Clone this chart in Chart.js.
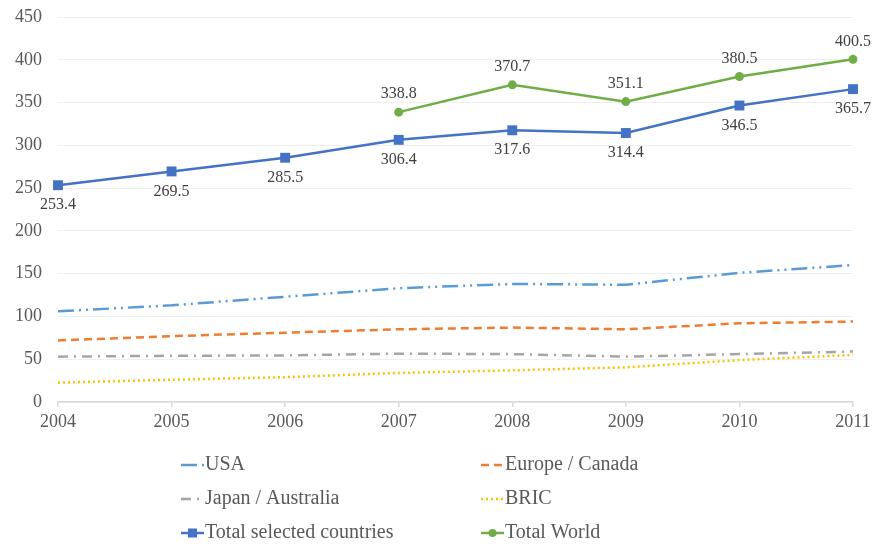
<!DOCTYPE html>
<html><head><meta charset="utf-8">
<script src="https://cdn.jsdelivr.net/npm/chart.js@4"></script>
<style>html,body{margin:0;padding:0;background:#fff}#wrap{width:876px;height:547px}</style>
</head><body><div id="wrap"><canvas id="c" width="876" height="547"></canvas></div>
<script>
const years = ['2004','2005','2006','2007','2008','2009','2010','2011'];
const usa = [106, 113, 123, 133, 138, 137, 151, 160];
const europe = [72, 77, 81, 85, 87, 85, 92, 94];
const japan = [53, 54, 54.5, 56.5, 56, 53, 56, 59];
const bric = [22.6, 26, 29, 34, 37, 40.5, 49, 55];
const totalSelected = [253.4, 269.5, 285.5, 306.4, 317.6, 314.4, 346.5, 365.7];
const totalWorld = [null, null, null, 338.8, 370.7, 351.1, 380.5, 400.5];
const yTicks = [0, 50, 100, 150, 200, 250, 300, 350, 400, 450];

const SERIF = '"Liberation Serif", "Times New Roman", serif';

const datasets = [
  {label:'USA', data:usa, borderColor:'#5B9BD5', borderDash:[16,5,2,5,2,5], borderWidth:2.5, pointRadius:0, legendCol:0, legendRow:0},
  {label:'Europe / Canada', data:europe, borderColor:'#ED7D31', borderDash:[8,5], borderWidth:2.5, pointRadius:0, legendCol:1, legendRow:0},
  {label:'Japan / Australia', data:japan, borderColor:'#A5A5A5', borderDash:[10,6,2,6], borderWidth:2.5, pointRadius:0, legendCol:0, legendRow:1},
  {label:'BRIC', data:bric, borderColor:'#FFC000', borderDash:[2,3], borderWidth:2.5, pointRadius:0, legendCol:1, legendRow:1},
  {label:'Total selected countries', data:totalSelected, borderColor:'#4472C4', backgroundColor:'#4472C4', borderWidth:2.5, pointStyle:'rect', pointRadius:7, pointBorderWidth:0, legendCol:0, legendRow:2, labelPos:'below'},
  {label:'Total World', data:totalWorld, borderColor:'#70AD47', backgroundColor:'#70AD47', borderWidth:2.5, pointStyle:'circle', pointRadius:4.5, pointBorderWidth:0, legendCol:1, legendRow:2, labelPos:'above'}
];

const labelPlugin = {
  id:'valLabels',
  afterDatasetsDraw(chart){
    const ctx = chart.ctx;
    ctx.save();
    ctx.font = '16px ' + SERIF;
    ctx.fillStyle = '#404040';
    ctx.textAlign = 'center';
    ctx.textBaseline = 'middle';
    chart.data.datasets.forEach((ds,i)=>{
      if(!ds.labelPos) return;
      const meta = chart.getDatasetMeta(i);
      meta.data.forEach((pt,j)=>{
        const v = ds.data[j];
        if(v==null) return;
        const dy = ds.labelPos==='below' ? 20 : -18;
        ctx.fillText(v.toFixed(1), pt.x, pt.y+dy);
      });
    });
    ctx.restore();
  }
};

const legendPlugin = {
  id:'customLegend',
  afterDraw(chart){
    const ctx = chart.ctx;
    const colX = [181, 481];
    const rowY = [465, 499, 533];
    ctx.save();
    chart.data.datasets.forEach(ds=>{
      const x = colX[ds.legendCol], y = rowY[ds.legendRow];
      ctx.strokeStyle = ds.borderColor;
      ctx.lineWidth = ds.borderWidth;
      ctx.setLineDash(ds.borderDash || []);
      ctx.beginPath(); ctx.moveTo(x, y); ctx.lineTo(x+23, y); ctx.stroke();
      ctx.setLineDash([]);
      if(ds.pointRadius>0){
        ctx.fillStyle = ds.backgroundColor;
        if(ds.pointStyle==='rect'){ ctx.fillRect(x+11.5-4.5, y-4.5, 9, 9); }
        else { ctx.beginPath(); ctx.arc(x+11.5, y, 4, 0, Math.PI*2); ctx.fill(); }
      }
      ctx.fillStyle = '#595959';
      ctx.font = '20px ' + SERIF;
      ctx.textAlign = 'left';
      ctx.textBaseline = 'middle';
      ctx.fillText(ds.label, x+24, y);
    });
    ctx.restore();
  }
};

new Chart(document.getElementById('c'), {
  type:'line',
  data:{labels:years, datasets:datasets.map(d=>Object.assign({fill:false, tension:0, spanGaps:false}, d))},
  options:{
    responsive:false, animation:false,
    layout:{padding:{left:0, right:23, top:17, bottom:105}},
    plugins:{legend:{display:false}, tooltip:{enabled:false}},
    scales:{
      x:{
        type:'category', offset:false,
        grid:{drawOnChartArea:false, drawTicks:true, tickLength:5, color:'#D9D9D9', lineWidth:1.5},
        border:{color:'#D9D9D9', width:1.5},
        ticks:{color:'#595959', font:{family:SERIF, size:18}, padding:4, maxRotation:0, autoSkip:false},
        afterFit(s){ s.height = 40; s.paddingLeft = 0; s.paddingRight = 0; }
      },
      y:{
        min:0, max:450,
        afterBuildTicks(s){ s.ticks = yTicks.map(v=>({value:v})); },
        grid:{color:'#EFEFEF', lineWidth:1, drawTicks:false},
        border:{display:false},
        ticks:{color:'#595959', font:{family:SERIF, size:18}, padding:16},
        afterFit(s){ s.width = 58; s.paddingTop = 0; s.paddingBottom = 0; }
      }
    }
  },
  plugins:[labelPlugin, legendPlugin]
});
</script></body></html>
